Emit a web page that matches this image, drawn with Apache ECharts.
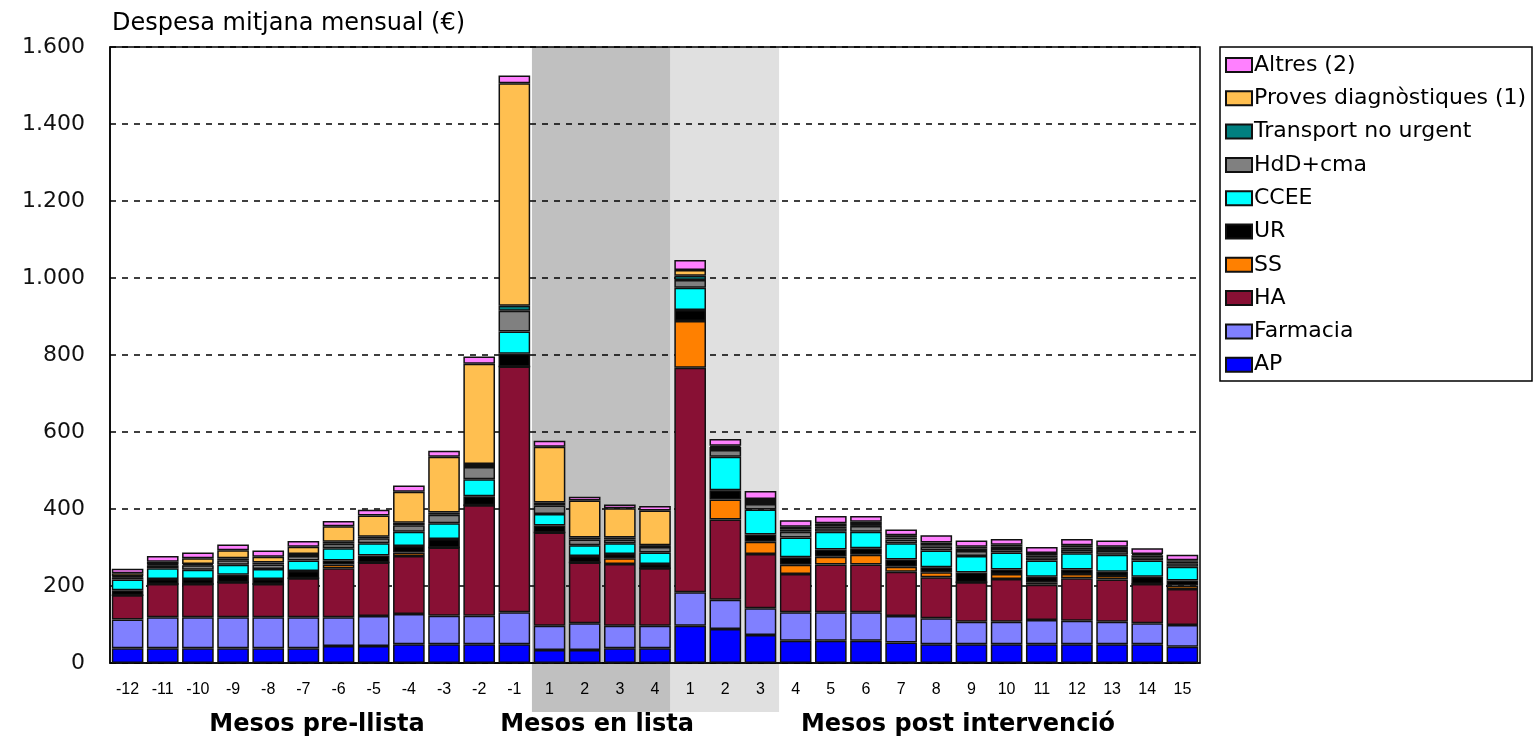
<!DOCTYPE html>
<html>
<head>
<meta charset="utf-8">
<script src="https://cdn.jsdelivr.net/npm/echarts@6/dist/echarts.min.js"></script>
<style>
  html, body { margin: 0; padding: 0; background: #fff; }
  #main { width: 1534px; height: 739px; }
</style>
</head>
<body>
<div id="main"></div>
<script>
// mesos: 12 pre-llista, 4 en llista, 15 post intervencio
var months = ['-12', '-11', '-10', '-9', '-8', '-7', '-6', '-5', '-4', '-3', '-2', '-1',
  '1', '2', '3', '4',
  '1', '2', '3', '4', '5', '6', '7', '8', '9', '10', '11', '12', '13', '14', '15']

var ap = [38, 38, 38, 38, 38, 38, 44, 44, 49, 49, 49, 49, 34, 34, 38, 38, 97, 88, 73, 58, 58, 58, 53, 49, 49, 49, 49, 49, 49, 49, 42]
var farmacia = [75, 81, 81, 81, 81, 81, 75, 78, 78, 74, 74, 83, 63, 69, 59, 59, 87, 76, 69, 74, 74, 74, 69, 67, 58, 58, 63, 61, 58, 54, 57]
var ha = [63, 86, 86, 91, 86, 101, 127, 139, 151, 177, 287, 638, 242, 158, 160, 149, 583, 209, 141, 99, 124, 124, 115, 107, 103, 111, 91, 110, 110, 102, 93]
var ss = [0, 0, 0, 0, 0, 0, 10, 0, 9, 0, 0, 0, 0, 0, 15, 0, 121, 52, 32, 24, 20, 25, 13, 13, 0, 13, 7, 11, 9, 0, 9]
var ur = [13, 13, 13, 19, 13, 19, 10, 18, 17, 22, 23, 33, 18, 17, 11, 11, 29, 24, 19, 20, 19, 17, 19, 13, 25, 12, 14, 12, 11, 19, 13]
var ccee = [28, 28, 24, 26, 26, 27, 32, 32, 37, 41, 44, 58, 30, 28, 28, 30, 58, 87, 65, 51, 46, 43, 42, 43, 43, 44, 42, 42, 44, 42, 36]
var hdd = [6, 8, 12, 12, 12, 12, 12, 13, 17, 22, 32, 54, 22, 15, 10, 14, 20, 17, 14, 15, 9, 15, 10, 10, 13, 9, 9, 9, 10, 9, 9]
var transport = [2, 2, 3, 5, 5, 5, 5, 4, 6, 6, 8, 13, 8, 5, 5, 5, 11, 8, 8, 5, 5, 5, 5, 4, 6, 6, 5, 6, 5, 5, 4]
var proves = [8, 7, 15, 21, 15, 19, 40, 55, 81, 145, 260, 578, 145, 96, 76, 90, 15, 3, 5, 8, 8, 6, 6, 7, 5, 5, 6, 6, 6, 3, 4]
var altres = [12, 15, 15, 15, 16, 15, 14, 15, 16, 15, 19, 20, 15, 10, 10, 12, 26, 18, 21, 17, 19, 15, 15, 19, 16, 15, 15, 16, 16, 15, 14]

var yTicks = [0, 200, 400, 600, 800, 1000, 1200, 1400, 1600]

// trams de fons (index de categoria inicial, final)
var periodes = [
  { text: 'Mesos pre-llista', from: 0, to: 11 },
  { text: 'Mesos en lista', from: 12, to: 15 },
  { text: 'Mesos post intervenció', from: 16, to: 30 }
]

var sers = [
  { name: 'AP', data: ap, color: '#0000ff' },
  { name: 'Farmacia', data: farmacia, color: '#8080ff' },
  { name: 'HA', data: ha, color: '#881034' },
  { name: 'SS', data: ss, color: '#ff8000' },
  { name: 'UR', data: ur, color: '#000000' },
  { name: 'CCEE', data: ccee, color: '#00ffff' },
  { name: 'HdD+cma', data: hdd, color: '#808080' },
  { name: 'Transport no urgent', data: transport, color: '#008080' },
  { name: 'Proves diagnòstiques (1)', data: proves, color: '#ffbf50' },
  { name: 'Altres (2)', data: altres, color: '#ff80ff' }
]

var font = '"DejaVu Sans", Verdana, sans-serif'
var chart = echarts.init(document.getElementById('main'))

var options = {
  animation: false,
  title: {
    text: 'Despesa mitjana mensual (€)',
    left: 107,
    top: 7,
    textStyle: { fontFamily: font, fontSize: 24, fontWeight: 'normal', color: '#000' }
  },
  grid: {
    left: 110,
    right: 334,
    top: 47,
    bottom: 76,
    show: true,
    borderColor: '#000',
    borderWidth: 1.5
  },
  legend: {
    orient: 'vertical',
    left: 1225,
    top: 54,
    padding: 0,
    icon: 'rect',
    itemWidth: 26,
    itemHeight: 14,
    itemGap: 11.3,
    data: sers.map(function (s) { return s.name }).reverse(),
    textStyle: { fontFamily: font, fontSize: 22, color: '#000', lineHeight: 22, padding: [0, 0, 0, -3] }
  },
  xAxis: {
    type: 'category',
    data: months,
    axisLine: { lineStyle: { color: '#000', width: 1.5 } },
    axisTick: { show: false },
    axisLabel: {
      interval: 0,
      margin: 19,
      fontFamily: '"Liberation Sans Narrow", "Liberation Sans", sans-serif',
      fontSize: 16,
      color: '#000'
    }
  },
  yAxis: {
    type: 'value',
    min: yTicks[0],
    max: yTicks[yTicks.length - 1],
    interval: 200,
    axisLine: { show: true, lineStyle: { color: '#000', width: 1.5 } },
    axisTick: { show: false },
    axisLabel: {
      margin: 25,
      fontFamily: font,
      fontSize: 22,
      color: '#111',
      formatter: function (v) {
        return String(v).replace(/\B(?=(\d{3})+(?!\d))/g, '.')
      }
    },
    splitLine: { lineStyle: { color: '#000', type: [6, 6], width: 1.5 } }
  },
  series: sers.map(function (s) {
    return {
      name: s.name,
      type: 'bar',
      stack: 'total',
      barCategoryGap: '10%',
      data: s.data,
      itemStyle: { color: s.color, borderColor: '#111', borderWidth: 1.5 }
    }
  })
}
chart.setOption(options)

// fons gris dels mesos en llista i primers mesos post, i noms dels periodes
function drawExtras() {
  var x0 = chart.convertToPixel({ xAxisIndex: 0 }, 0)
  var x1 = chart.convertToPixel({ xAxisIndex: 0 }, 1)
  var bw = x1 - x0
  var top = chart.convertToPixel({ yAxisIndex: 0 }, yTicks[yTicks.length - 1])
  var bottom = 712
  var edge = function (i) { return x0 + (i - 0.5) * bw }
  var els = [
    { type: 'rect', z: -10, shape: { x: edge(12), y: top, width: edge(16) - edge(12) - 2, height: bottom - top }, style: { fill: '#c0c0c0' } },
    { type: 'rect', z: -10, shape: { x: edge(16) - 2, y: top, width: edge(19) - edge(16) + 3, height: bottom - top }, style: { fill: '#e0e0e0' } },
    { type: 'rect', z: -10, shape: { x: 1220, y: 47, width: 312, height: 334 }, style: { fill: 'none', stroke: '#000', lineWidth: 1.5 } }
  ]
  var centres = [317, 597, 958]
  periodes.forEach(function (p, i) {
    els.push({
      type: 'text',
      x: centres[i],
      y: 725,
      style: {
        text: p.text,
        fontFamily: font,
        fontSize: 24,
        fontWeight: 'bold',
        fill: '#000',
        align: 'center',
        verticalAlign: 'middle'
      }
    })
  })
  chart.setOption({ graphic: { elements: els } })
}
drawExtras()
</script>
</body>
</html>
